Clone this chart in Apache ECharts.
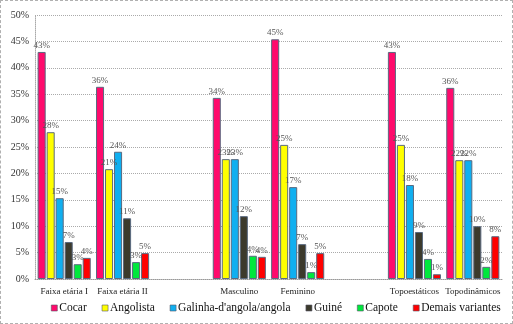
<!DOCTYPE html>
<html>
<head>
<meta charset="utf-8">
<script src="https://cdn.jsdelivr.net/npm/echarts@6/dist/echarts.min.js"></script>
<style>
  html, body { margin: 0; padding: 0; background: #fff; }
  #chart { width: 511px; height: 322px; border: 1px dashed #b0b0b0; }
</style>
</head>
<body>
<div id="chart"></div>
<script>
// categories (empty slots keep the gaps between groups)
var categories = ['Faixa etária I', 'Faixa etária II', '', 'Masculino', 'Feminino', '', 'Topoestáticos', 'Topodinâmicos']
var seriesNames = ['Cocar', 'Angolista', 'Galinha-d\'angola/angola', 'Guiné', 'Capote', 'Demais variantes']
var colors = ['#ff0a6c', '#ffff00', '#10aff0', '#3c3a2c', '#00e83c', '#ff0000']

// values in %
var cocar = [43.0, 36.4, null, 34.3, 45.4, null, 43.0, 36.2]
var angolista = [27.8, 20.8, null, 22.7, 25.4, null, 25.4, 22.5]
var galinha = [15.3, 24.1, null, 22.7, 17.4, null, 17.8, 22.5]
var guine = [7.0, 11.5, null, 11.9, 6.6, null, 8.9, 10.0]
var capote = [2.8, 3.2, null, 4.4, 1.3, null, 3.8, 2.3]
var demais = [4.0, 4.9, null, 4.2, 4.9, null, 0.9, 8.1]

// labels printed above bars
var labCocar = ['43%', '36%', '', '34%', '45%', '', '43%', '36%']
var labAngolista = ['28%', '21%', '', '23%', '25%', '', '25%', '22%']
var labGalinha = ['15%', '24%', '', '23%', '17%', '', '18%', '22%']
var labGuine = ['7%', '11%', '', '12%', '7%', '', '9%', '10%']
var labCapote = ['3%', '3%', '', '4%', '1%', '', '4%', '2%']
var labDemais = ['4%', '5%', '', '4%', '5%', '', '1%', '8%']

var allData = [cocar, angolista, galinha, guine, capote, demais]
var allLabels = [labCocar, labAngolista, labGalinha, labGuine, labCapote, labDemais]

var chart = echarts.init(document.getElementById('chart'))

var series = seriesNames.map(function(name, i) {
  return {
    name: name,
    type: 'bar',
    barGap: '12%',
    barCategoryGap: '9%',
    data: allData[i],
    itemStyle: {
      color: colors[i],
      borderColor: '#5a6a80',
      borderWidth: 1
    },
    label: {
      show: true,
      position: 'top',
      distance: 2,
      fontFamily: 'Liberation Serif',
      fontSize: 9,
      color: '#555',
      formatter: function(p) { return allLabels[i][p.dataIndex] }
    }
  }
})

chart.setOption({
  animation: false,
  textStyle: { fontFamily: 'Liberation Serif' },
  grid: { left: 34, right: 10, top: 14, bottom: 44 },
  legend: {
    top: 296,
    left: 45,
    itemWidth: 6,
    itemHeight: 6,
    itemGap: 15,
    icon: 'rect',
    itemStyle: { borderColor: '#556', borderWidth: 0.6 },
    textStyle: { fontFamily: 'Liberation Serif', fontSize: 11.5, color: '#111', padding: [0, 0, 0, -3] },
    data: seriesNames
  },
  xAxis: {
    type: 'category',
    data: categories,
    axisLine: { lineStyle: { color: '#999', type: 'dotted' } },
    axisTick: { show: false },
    axisLabel: { fontFamily: 'Liberation Serif', fontSize: 9, color: '#222', margin: 8, interval: 0 }
  },
  yAxis: {
    type: 'value',
    min: 0,
    max: 50,
    interval: 5,
    axisLine: { show: true, lineStyle: { color: '#aaa', type: 'dotted' } },
    axisTick: { show: false },
    axisLabel: { formatter: '{value}%', fontFamily: 'Liberation Serif', fontSize: 10, color: '#333', margin: 6 },
    splitLine: { lineStyle: { color: '#aaa', type: 'dotted' } }
  },
  series: series
})
</script>
</body>
</html>
